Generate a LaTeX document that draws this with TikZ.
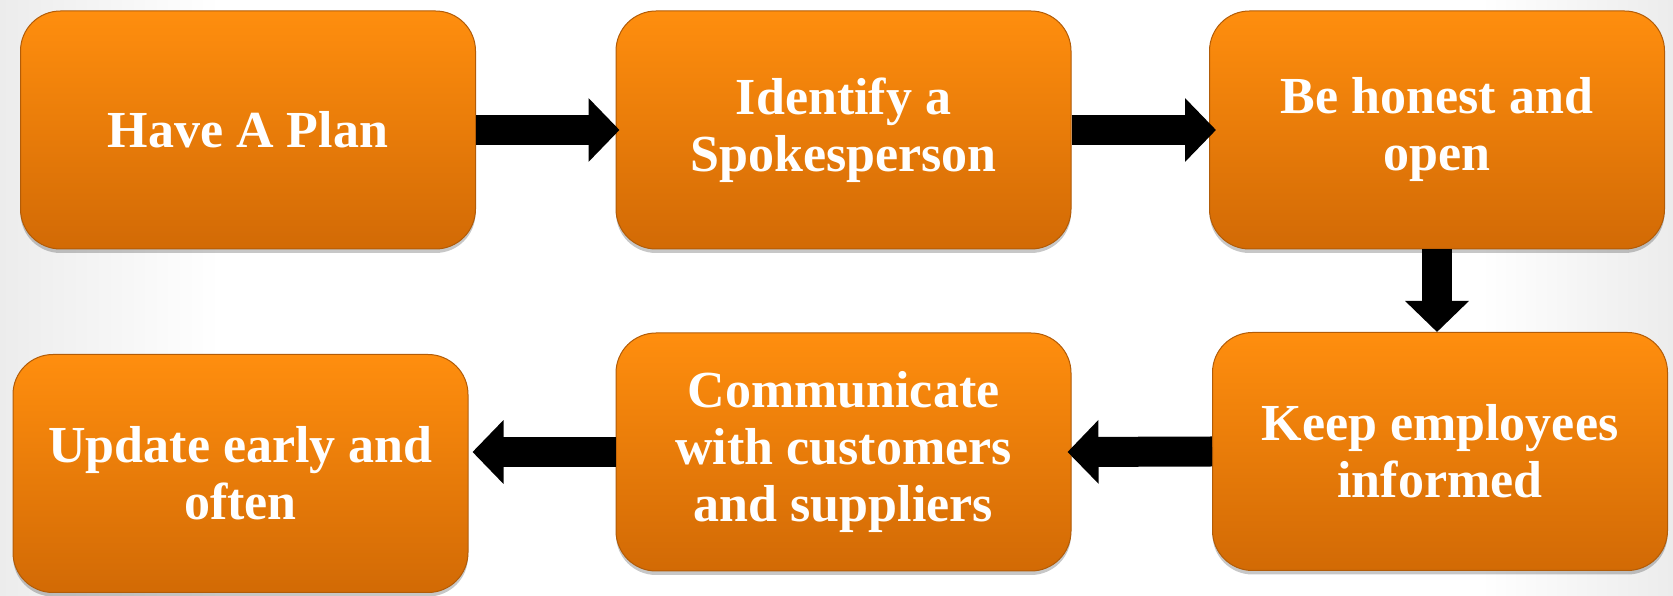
\documentclass[tikz,border=0pt]{standalone}
\usepackage{fontspec}
\setmainfont{Liberation Serif}
\usetikzlibrary{arrows.meta,shadows,calc}
\definecolor{boxtop}{RGB}{255,142,14}
\definecolor{boxbot}{RGB}{210,106,5}
\definecolor{boxedge}{RGB}{178,92,8}
\definecolor{bggray}{RGB}{236,236,236}
\tikzset{
  stepbox/.style={rounded corners=40pt, minimum width=455pt, minimum height=238pt,
    inner sep=0pt, align=center, text=white,
    top color=boxtop, bottom color=boxbot, draw=boxedge, line width=1pt,
    drop shadow={shadow xshift=0pt, shadow yshift=-4pt, opacity=0.22, fill=black},
    font=\bfseries\fontsize{52pt}{57pt}\selectfont},
  flow/.style={draw=black, line width=30pt, -{Triangle[length=31pt, width=62pt]}}
}
\begin{document}
\begin{tikzpicture}[x=1pt,y=1pt]
\useasboundingbox (0,0) rectangle (1673,596);
\fill[white] (0,0) rectangle (1673,596);
\shade[left color=bggray, right color=white] (0,0) rectangle (220,596);
\shade[left color=white, right color=bggray] (1480,0) rectangle (1673,596);
\node[stepbox] (b1) at (248,466) {Have A Plan};
\node[stepbox] (b2) at (843.5,466) {Identify a\\Spokesperson};
\node[stepbox] (b3) at (1437,466) {Be honest and\\open};
\node[stepbox] (b6) at (1440,144.5) {Keep employees\\informed};
\node[stepbox] (b5) at (843.5,144) {Communicate\\with customers\\and suppliers};
\node[stepbox] (b4) at (240.5,122.5) {Update early and\\often};
\draw[flow] (b1.east) -- ($(b2.west)+(4,0)$);
\draw[flow] (b2.east) -- ($(b3.west)+(7,0)$);
\draw[flow] (b3.south) -- (b3.south |- b6.north);
\draw[flow] (b6.west) -- ($(b5.east)+(-4,0)$);
\draw[flow] (b5.west) -- ($(b5.west -| b4.east)+(4,0)$);
\end{tikzpicture}
\end{document}
